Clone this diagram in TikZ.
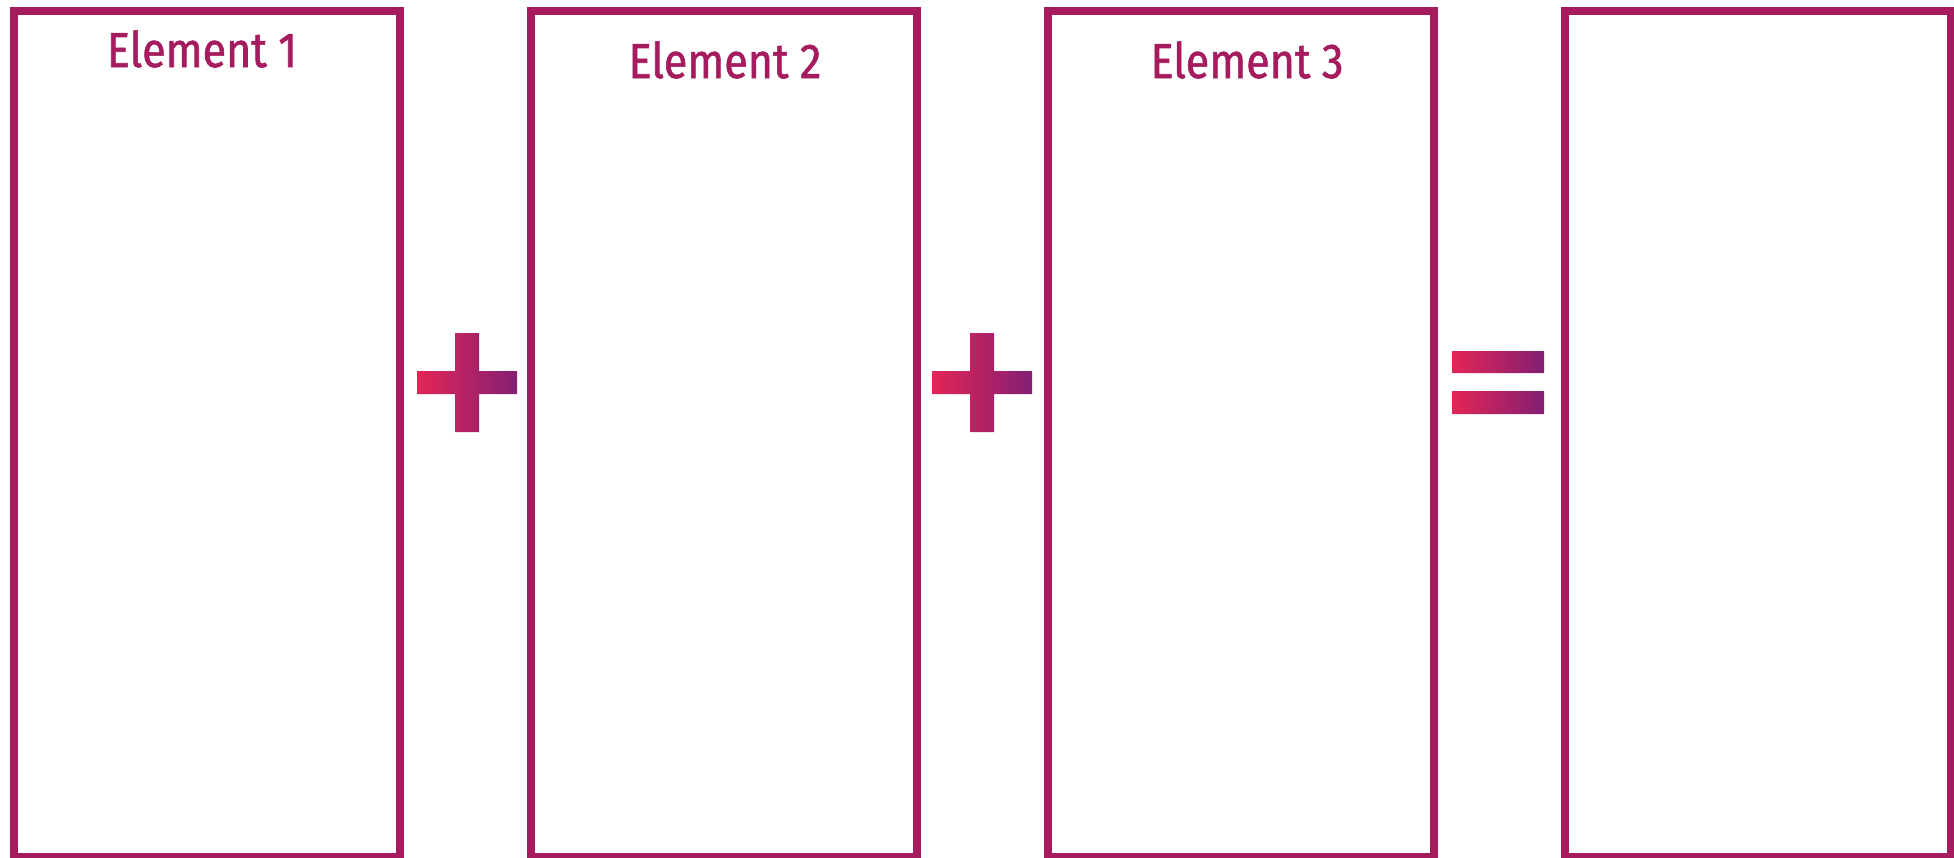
\documentclass[tikz,border=0pt]{standalone}
\usepackage{fontspec}
\setmainfont{Fira Sans}
\newfontfamily\elemfont{Fira Sans}[FakeStretch=0.88, FakeBold=1.2]
\usetikzlibrary{positioning}
\definecolor{elemline}{RGB}{165,27,93}
\definecolor{gradleft}{RGB}{227,37,86}
\definecolor{gradright}{RGB}{131,31,115}

\begin{document}
\begin{tikzpicture}[x=1pt,y=-1pt,
    elembox/.style={draw=elemline, line width=8pt, minimum width=386pt,
      minimum height=846pt, inner sep=0pt},
    elemlabel/.style={text=elemline, font=\elemfont\fontsize{49}{49}\selectfont, anchor=base},
    opfill/.style={left color=gradleft, right color=gradright}]
    \useasboundingbox (0,0) rectangle (1954,857);
    \clip (0,0) rectangle (1954,857);

    % Boxes
    \node[elembox] (box1) at (207,434) {};
    \node[elembox, right=123pt of box1] (box2) {};
    \node[elembox, right=123pt of box2] (box3) {};
    \node[elembox, right=123pt of box3] (box4) {};

    % Labels
    \node[elemlabel] (lab1) at (202,67) {Element 1};
    \node[elemlabel] (lab2) at (725,78) {Element 2};
    \node[elemlabel] (lab3) at (1247,78) {Element 3};

    % Plus signs
    \foreach \cx in {467,982} {
        \shade[opfill] (\cx-50,371) rectangle (\cx+50,394)
                       (\cx-12,333) rectangle (\cx+12,432);
    }

    % Equals sign
    \shade[opfill] (1452,351) rectangle (1544,373)
                   (1452,391) rectangle (1544,414);
\end{tikzpicture}
\end{document}
